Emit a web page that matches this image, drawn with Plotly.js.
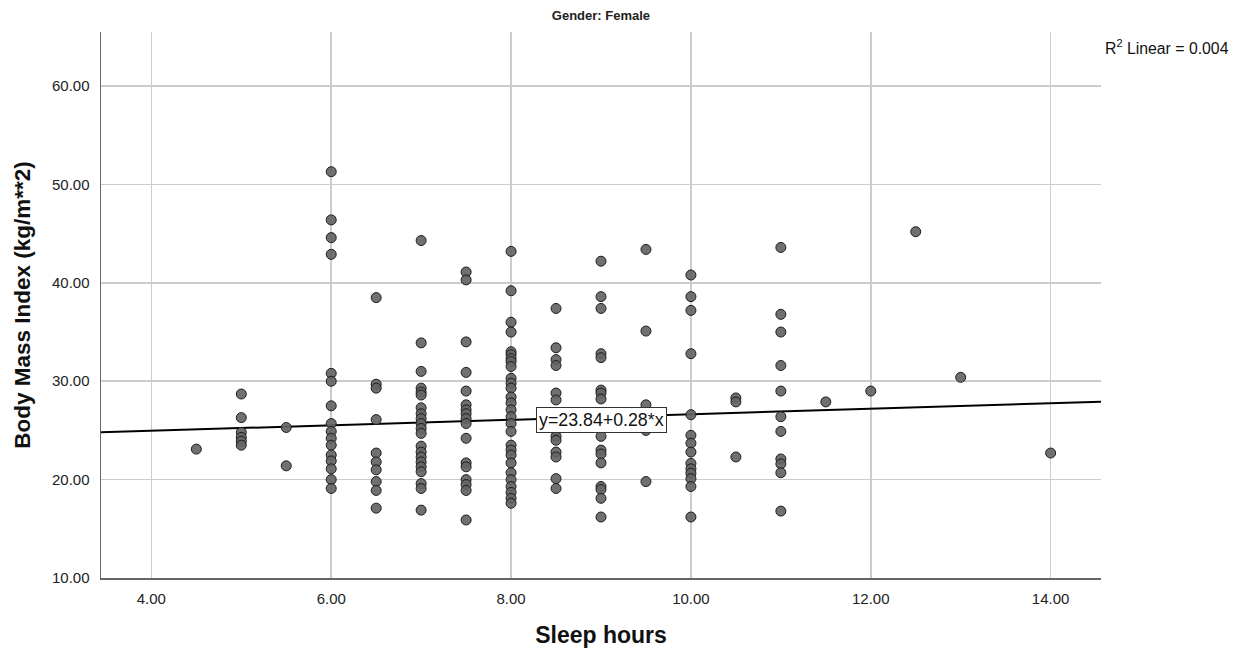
<!DOCTYPE html>
<html>
<head>
<meta charset="utf-8">
<script src="https://cdn.plot.ly/plotly-3.0.1.min.js"></script>
<style>html,body{margin:0;padding:0;background:#fff;}#chart{width:1234px;height:651px;}</style>
</head>
<body>
<div id="chart"></div>
<script>
// Sleep-hour levels and BMI values observed at each level
const sleepLevels = [4.5, 5, 5.5, 6, 6.5, 7, 7.5, 8, 8.5, 9, 9.5, 10, 10.5, 11, 11.5, 12, 12.5, 13, 14];
const bmiAt45 = [23.1];
const bmiAt5 = [28.7, 26.3, 24.8, 24.3, 23.9, 23.5];
const bmiAt55 = [25.3, 21.4];
const bmiAt6 = [51.3, 46.4, 44.6, 42.9, 30.8, 30.0, 27.5, 25.7, 24.9, 24.2, 23.5, 22.5, 21.9, 21.1, 20.0, 19.1];
const bmiAt65 = [38.5, 29.7, 29.3, 26.1, 22.7, 21.8, 21.0, 19.8, 18.9, 17.1];
const bmiAt7 = [44.3, 33.9, 31.0, 29.3, 28.9, 28.6, 27.3, 26.7, 26.2, 25.7, 25.2, 24.7, 23.4, 22.8, 22.3, 21.8, 21.3, 20.8, 19.6, 19.1, 16.9];
const bmiAt75 = [41.1, 40.3, 34.0, 30.9, 29.0, 27.6, 27.1, 26.7, 26.2, 25.7, 24.2, 21.7, 21.3, 20.0, 19.5, 18.9, 15.9];
const bmiAt8 = [43.2, 39.2, 36.0, 35.0, 33.0, 32.7, 32.3, 32.0, 31.5, 30.3, 29.8, 29.3, 28.4, 27.8, 27.1, 26.4, 25.7, 24.9, 23.5, 23.0, 22.5, 21.7, 20.7, 20.0, 19.3, 18.7, 18.1, 17.6];
const bmiAt85 = [37.4, 33.4, 32.2, 31.6, 28.8, 28.1, 26.5, 25.0, 24.4, 24.0, 22.8, 22.3, 20.1, 19.1];
const bmiAt9 = [42.2, 38.6, 37.4, 32.8, 32.4, 29.1, 28.8, 28.2, 24.4, 23.0, 22.6, 21.7, 19.3, 19.0, 18.1, 16.2];
const bmiAt95 = [43.4, 35.1, 27.6, 25.0, 19.8];
const bmiAt10 = [40.8, 38.6, 37.2, 32.8, 26.6, 24.5, 23.7, 22.8, 21.65, 21.1, 20.65, 20.1, 19.3, 16.2];
const bmiAt105 = [28.3, 27.9, 22.3];
const bmiAt11 = [43.6, 36.8, 35.0, 31.6, 29.0, 26.4, 24.9, 22.1, 21.6, 20.7, 16.8];
const bmiAt115 = [27.9];
const bmiAt12 = [29.0];
const bmiAt125 = [45.2];
const bmiAt13 = [30.4];
const bmiAt14 = [22.7];
const bmiGroups = [bmiAt45, bmiAt5, bmiAt55, bmiAt6, bmiAt65, bmiAt7, bmiAt75, bmiAt8, bmiAt85, bmiAt9, bmiAt95, bmiAt10, bmiAt105, bmiAt11, bmiAt115, bmiAt12, bmiAt125, bmiAt13, bmiAt14];

// Fit line reported by the chart
const fitIntercept = 23.84;
const fitSlope = 0.28;
const fitLabel = 'y=23.84+0.28*x';
const r2Label = 'R<sup>2</sup> Linear = 0.004';

const xTicks = [4, 6, 8, 10, 12, 14];
const xTickText = ['4.00', '6.00', '8.00', '10.00', '12.00', '14.00'];
const yTicks = [10, 20, 30, 40, 50, 60];
const yTickText = ['10.00', '20.00', '30.00', '40.00', '50.00', '60.00'];

const xRange = [3.44, 14.56];
const yRange = [10, 65.5];

const xs = [], ys = [];
sleepLevels.forEach((h, i) => bmiGroups[i].forEach(v => { xs.push(h); ys.push(v); }));

const fitX = xRange.slice();
const fitY = fitX.map(x => fitIntercept + fitSlope * x);
const labelX = 9;
const labelY = fitIntercept + fitSlope * labelX;

const font = 'Arial, "Liberation Sans", sans-serif';

const traces = [
  {
    type: 'scatter', mode: 'lines', x: fitX, y: fitY,
    line: {color: '#000', width: 2}, hoverinfo: 'skip', showlegend: false
  },
  {
    type: 'scatter', mode: 'markers', x: xs, y: ys,
    marker: {size: 10, color: 'rgba(100,100,100,0.92)', line: {color: '#1e1e1e', width: 1}},
    showlegend: false
  }
];

const layout = {
  width: 1234, height: 651,
  margin: {l: 101, r: 133, t: 32, b: 73},
  paper_bgcolor: '#fff', plot_bgcolor: '#fff',
  font: {family: font, color: '#222', size: 12},
  title: {text: '<b>Gender: Female</b>', x: 0.4870, xanchor: 'center', y: 0.977, yanchor: 'middle', font: {family: font, size: 13, color: '#222'}},
  xaxis: {
    range: xRange, tickvals: xTicks, ticktext: xTickText,
    showgrid: true, gridcolor: '#cccccc', gridwidth: 1.5,
    zeroline: false, showline: true, linecolor: '#666', linewidth: 1.5,
    ticks: '', tickfont: {family: font, size: 15, color: '#222'}, ticklabelstandoff: 6,
    title: {text: '<b>Sleep hours</b>', font: {family: font, size: 23, color: '#111'}, standoff: 21},
    automargin: false
  },
  yaxis: {
    range: yRange, tickvals: yTicks, ticktext: yTickText,
    showgrid: true, gridcolor: '#cccccc', gridwidth: 1.5,
    zeroline: false, showline: true, linecolor: '#666', linewidth: 1.5,
    ticks: '', tickfont: {family: font, size: 15, color: '#222'}, ticklabelstandoff: 7,
    title: {text: '<b>Body Mass Index (kg/m**2)</b>', font: {family: font, size: 22.5, color: '#111'}, standoff: 15},
    automargin: false
  },
  annotations: [
    {
      x: labelX, y: labelY, xref: 'x', yref: 'y', yshift: -3, text: fitLabel, showarrow: false,
      bgcolor: '#fff', bordercolor: '#333', borderwidth: 1, borderpad: 2,
      font: {family: font, size: 17.8, color: '#111'}, xanchor: 'center', yanchor: 'middle'
    },
    {
      x: 1.0015, y: 0.972, xref: 'paper', yref: 'paper', text: r2Label, showarrow: false,
      font: {family: font, size: 15.8, color: '#111'}, xanchor: 'left', yanchor: 'middle'
    }
  ],
  showlegend: false
};

Plotly.newPlot('chart', traces, layout, {displayModeBar: false, staticPlot: true});
</script>
</body>
</html>
